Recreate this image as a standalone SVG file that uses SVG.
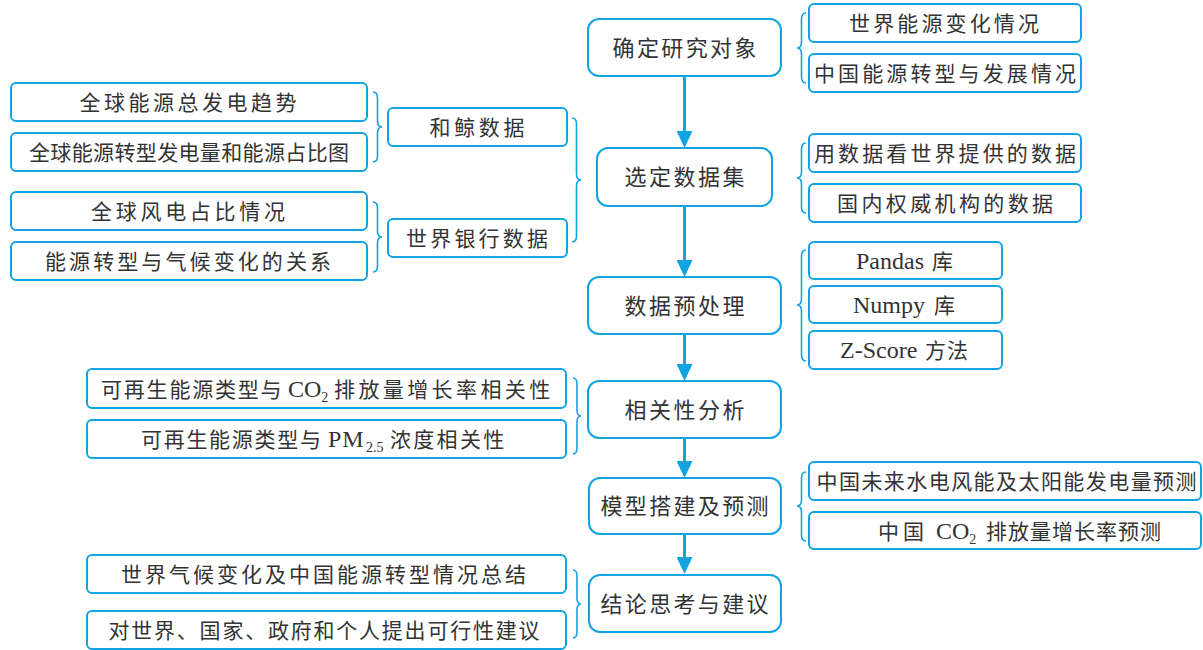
<svg xmlns="http://www.w3.org/2000/svg" width="1203" height="650" viewBox="0 0 1203 650">
<style>
.box{fill:#fff;stroke:#12a3e3;stroke-width:2}
.t{font-family:"Liberation Serif","Noto Sans CJK SC",serif;font-size:21px;fill:#333;text-anchor:middle}
.s{text-anchor:start}
.m{font-size:22px}
.lat{font-size:24px}
.sub{font-size:14px}
.br{fill:none;stroke:#12a3e3;stroke-width:1.6}
.ln{stroke:#12a3e3;stroke-width:3;fill:none}
</style>
<defs>
<marker id="ah" markerUnits="userSpaceOnUse" markerWidth="17" markerHeight="16" refX="9" refY="8" orient="auto">
<path d="M0,0 L17,8 L0,16 Z" fill="#12a3e3"/>
</marker>
</defs>
<rect width="1203" height="650" fill="#fff"/>

<g id="connectors">
<line class="ln" x1="684.5" y1="76" x2="684.5" y2="140" marker-end="url(#ah)"/>
<line class="ln" x1="684.5" y1="206" x2="684.5" y2="269" marker-end="url(#ah)"/>
<line class="ln" x1="684.5" y1="334" x2="684.5" y2="373" marker-end="url(#ah)"/>
<line class="ln" x1="684.5" y1="438" x2="684.5" y2="470" marker-end="url(#ah)"/>
<line class="ln" x1="684.5" y1="534" x2="684.5" y2="566" marker-end="url(#ah)"/>
<path class="br" d="M373,92 Q377.5,92 377.5,98 L377.5,121 Q377.5,127 382,127 Q377.5,127 377.5,133 L377.5,156 Q377.5,162 373,162"/>
<path class="br" d="M373,202 Q377.5,202 377.5,208 L377.5,231 Q377.5,237 382,237 Q377.5,237 377.5,243 L377.5,266 Q377.5,272 373,272"/>
<path class="br" d="M572,118 Q576.5,118 576.5,124 L576.5,174 Q576.5,180 581,180 Q576.5,180 576.5,186 L576.5,236 Q576.5,242 572,242"/>
<path class="br" d="M573,378 Q577,378 577,384 L577,410 Q577,416 581,416 Q577,416 577,422 L577,448 Q577,454 573,454"/>
<path class="br" d="M573,570 Q577,570 577,576 L577,598 Q577,604 581,604 Q577,604 577,610 L577,632 Q577,638 573,638"/>
<path class="br" d="M806,13 Q801.5,13 801.5,19 L801.5,42 Q801.5,48 797,48 Q801.5,48 801.5,54 L801.5,77 Q801.5,83 806,83"/>
<path class="br" d="M806,143 Q801.5,143 801.5,149 L801.5,172 Q801.5,178 797,178 Q801.5,178 801.5,184 L801.5,207 Q801.5,213 806,213"/>
<path class="br" d="M806,250 Q801.5,250 801.5,256 L801.5,299 Q801.5,305 797,305 Q801.5,305 801.5,311 L801.5,355 Q801.5,361 806,361"/>
<path class="br" d="M806,472 Q801.5,472 801.5,478 L801.5,500 Q801.5,506 797,506 Q801.5,506 801.5,512 L801.5,535 Q801.5,541 806,541"/>
</g>

<g id="n1"><rect class="box" x="588" y="19" width="193" height="57" rx="11"/><text class="t m" x="684.5" y="55.5" textLength="144" lengthAdjust="spacing">确定研究对象</text></g>
<g id="n2"><rect class="box" x="597" y="148" width="175" height="58" rx="11"/><text class="t m" x="684.5" y="185" textLength="120" lengthAdjust="spacing">选定数据集</text></g>
<g id="n3"><rect class="box" x="588" y="277" width="193" height="57" rx="11"/><text class="t m" x="684.5" y="313.5" textLength="120" lengthAdjust="spacing">数据预处理</text></g>
<g id="n4"><rect class="box" x="588" y="381" width="193" height="57" rx="11"/><text class="t m" x="684.5" y="417.5" textLength="120" lengthAdjust="spacing">相关性分析</text></g>
<g id="n5"><rect class="box" x="589" y="478" width="192" height="56" rx="11"/><text class="t m" x="684.5" y="514" textLength="168" lengthAdjust="spacing">模型搭建及预测</text></g>
<g id="n6"><rect class="box" x="589" y="575" width="192" height="57" rx="11"/><text class="t m" x="684.5" y="611.5" textLength="168" lengthAdjust="spacing">结论思考与建议</text></g>

<g id="l1"><rect class="box" x="11" y="83" width="356" height="38" rx="5"/><text class="t" x="188" y="110" textLength="217" lengthAdjust="spacing">全球能源总发电趋势</text></g>
<g id="l2"><rect class="box" x="11" y="133" width="356" height="38" rx="5"/><text class="t" x="189" y="160" textLength="320" lengthAdjust="spacing">全球能源转型发电量和能源占比图</text></g>
<g id="l3"><rect class="box" x="11" y="192" width="356" height="38" rx="5"/><text class="t" x="188" y="219" textLength="194" lengthAdjust="spacing">全球风电占比情况</text></g>
<g id="l4"><rect class="box" x="11" y="242" width="356" height="38" rx="5"/><text class="t" x="188" y="269" textLength="286" lengthAdjust="spacing">能源转型与气候变化的关系</text></g>
<g id="d1"><rect class="box" x="388" y="108" width="179" height="38" rx="5"/><text class="t" x="477" y="135" textLength="95" lengthAdjust="spacing">和鲸数据</text></g>
<g id="d2"><rect class="box" x="388" y="219" width="179" height="38" rx="5"/><text class="t" x="477" y="246" textLength="142" lengthAdjust="spacing">世界银行数据</text></g>

<g id="r1"><rect class="box" x="809" y="4" width="272" height="38" rx="5"/><text class="t" x="944" y="31" textLength="190" lengthAdjust="spacing">世界能源变化情况</text></g>
<g id="r2"><rect class="box" x="809" y="54" width="272" height="38" rx="5"/><text class="t" x="945" y="81" textLength="262" lengthAdjust="spacing">中国能源转型与发展情况</text></g>
<g id="r3"><rect class="box" x="809" y="134" width="272" height="38" rx="5"/><text class="t" x="945" y="161" textLength="262" lengthAdjust="spacing">用数据看世界提供的数据</text></g>
<g id="r4"><rect class="box" x="809" y="184" width="272" height="38" rx="5"/><text class="t" x="945" y="211" textLength="216" lengthAdjust="spacing">国内权威机构的数据</text></g>
<g id="r5"><rect class="box" x="809" y="242" width="193" height="37" rx="5"/><text class="t s" y="268.5"><tspan class="lat" x="856">Pandas</tspan><tspan x="932">库</tspan></text></g>
<g id="r6"><rect class="box" x="809" y="286" width="193" height="37" rx="5"/><text class="t s" y="312.5"><tspan class="lat" x="853">Numpy</tspan><tspan x="934">库</tspan></text></g>
<g id="r7"><rect class="box" x="809" y="331" width="193" height="38" rx="5"/><text class="t s" y="358"><tspan class="lat" x="840">Z-Score</tspan><tspan x="925" letter-spacing="1">方法</tspan></text></g>
<g id="r8"><rect class="box" x="809" y="462" width="392" height="38" rx="5"/><text class="t" x="1006.5" y="489" textLength="380" lengthAdjust="spacing">中国未来水电风能及太阳能发电量预测</text></g>
<g id="r9"><rect class="box" x="809" y="512" width="392" height="37" rx="5"/><text class="t s" y="538.5"><tspan x="878" letter-spacing="4">中国</tspan><tspan class="lat" x="936">CO</tspan><tspan class="sub" dy="5">2</tspan><tspan x="986" dy="-5" letter-spacing="1">排放量增长率预测</tspan></text></g>

<g id="c1"><rect class="box" x="87" y="369" width="479" height="39" rx="5"/><text class="t s" y="396.5"><tspan x="101" letter-spacing="1.8">可再生能源类型与</tspan><tspan class="lat" x="288">CO</tspan><tspan class="sub" dy="5">2</tspan><tspan x="334" dy="-5" letter-spacing="3.4">排放量增长率相关性</tspan></text></g>
<g id="c2"><rect class="box" x="87" y="420" width="479" height="38" rx="5"/><text class="t s" y="447"><tspan x="141" letter-spacing="1.7">可再生能源类型与</tspan><tspan class="lat" x="328" letter-spacing="1">PM</tspan><tspan class="sub" x="366" dy="5">2.5</tspan><tspan x="390" dy="-5" letter-spacing="2.3">浓度相关性</tspan></text></g>
<g id="s1"><rect class="box" x="87" y="555" width="479" height="38" rx="5"/><text class="t" x="323.5" y="582" textLength="405" lengthAdjust="spacing">世界气候变化及中国能源转型情况总结</text></g>
<g id="s2"><rect class="box" x="87" y="611" width="479" height="38" rx="5"/><text class="t" x="324" y="638" textLength="431" lengthAdjust="spacing">对世界、国家、政府和个人提出可行性建议</text></g>
</svg>
